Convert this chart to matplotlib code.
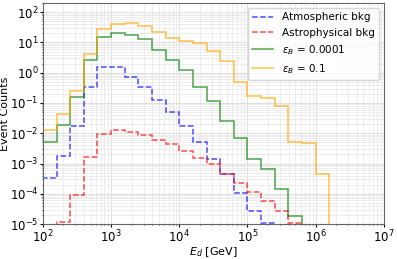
import numpy as np
import matplotlib
matplotlib.use("Agg")
import matplotlib.pyplot as plt
from matplotlib.lines import Line2D

# log-spaced energy bins, 0.2 decade wide, from 1e2 GeV
bin_edges = np.logspace(2, 7, 26)

atm_start = 0
atm_bkg = [3.2e-4, 1.8e-3, 1.8e-2, 0.33, 1.6, 1.55, 0.74, 0.33, 0.13, 0.049,
           0.017, 5.2e-3, 1.45e-3, 4.5e-4, 1.07e-4, 2.7e-5, 1.1e-5]

astro_start = 1
astro_bkg = [1.2e-5, 9e-5, 1.6e-3, 9.4e-3, 1.26e-2, 1.1e-2, 8.7e-3, 5.9e-3, 4.3e-3,
             2.6e-3, 1.5e-3, 9.4e-4, 4.6e-4, 2.3e-4, 1.17e-4, 5.7e-5, 2.6e-5, 1.1e-5]

eps_small_start = 0
eps_small = [5.3e-3, 1.9e-2, 0.16, 2.7, 15.2, 21, 17.6, 13, 5.5, 2.7,
             1.2, 0.35, 0.115, 0.026, 7.1e-3, 1.45e-3, 6.4e-4, 1.45e-4, 1.9e-5]

eps_big_start = 0
eps_big = [1.26e-2, 4.3e-2, 0.245, 4.2, 27, 42, 44, 36, 22.6, 14.4,
           11, 9.3, 5.4, 2.4, 0.51, 0.17, 0.15, 0.081, 5e-3, 4.6e-3, 4.5e-4]

series = [
    ("Atmospheric bkg", atm_bkg, atm_start, "blue", "--"),
    ("Astrophysical bkg", astro_bkg, astro_start, "red", "--"),
    (r"$\epsilon_B$ = 0.0001", eps_small, eps_small_start, "green", "-"),
    (r"$\epsilon_B$ = 0.1", eps_big, eps_big_start, "orange", "-"),
]

fig, ax = plt.subplots(figsize=(3.97, 2.59), dpi=100)
fig.subplots_adjust(left=0.108, right=0.967, top=0.988, bottom=0.135)

handles = []
for label, vals, start, color, ls in series:
    edges = bin_edges[start:start + len(vals) + 1]
    ax.stairs(vals, edges, baseline=1e-7, color=color, linestyle=ls,
              linewidth=1.1, alpha=0.7)
    handles.append(Line2D([], [], color=color, linestyle=ls, linewidth=1.1,
                          alpha=0.7, label=label))

ax.set_xscale("log")
ax.set_yscale("log")
ax.set_xlim(1e2, 1e7)
ax.set_ylim(1e-5, 2e2)
ax.grid(True, which="major", color="0.85", linewidth=0.6)
ax.grid(True, which="minor", color="0.9", linewidth=0.5)
ax.set_axisbelow(True)
ax.tick_params(which="major", labelsize=8.5, pad=1, length=2)
ax.tick_params(which="minor", length=1)
ax.set_xlabel(r"$E_d$ [GeV]", fontsize=8, labelpad=0)
ax.set_ylabel("Event Counts", fontsize=8, labelpad=0)
for s in ax.spines.values():
    s.set_color("0.4")
ax.legend(handles=handles, loc="upper right", fontsize=7.5)

fig.savefig("out.png", dpi=100)
